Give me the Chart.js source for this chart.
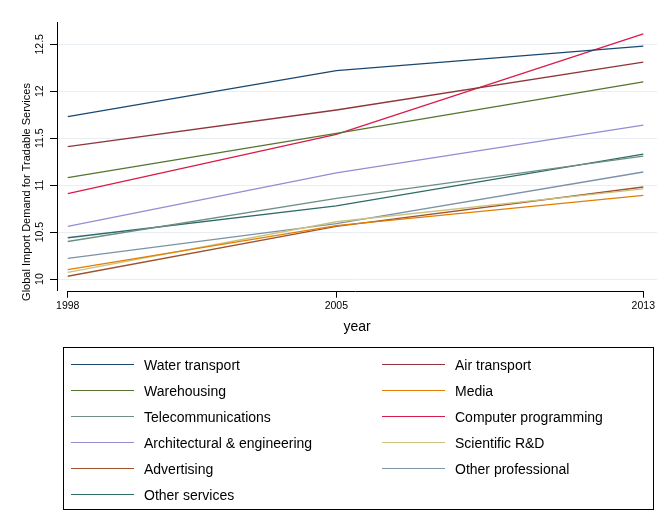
<!DOCTYPE html>
<html>
<head>
<meta charset="utf-8">
<script src="https://cdn.jsdelivr.net/npm/chart.js@4.4.1/dist/chart.umd.min.js"></script>
<style>
  html, body { margin: 0; padding: 0; background: #fff; }
  #wrap { position: relative; width: 669px; height: 525px; }
  #c { position: absolute; left: 0; top: 0; }
  #legend { position: absolute; left: 63px; top: 347px; width: 591px; height: 163px;
    border: 1px solid #000; box-sizing: border-box; font-family: 'Liberation Sans', Arial, sans-serif; font-size: 14px; color: #000; }
  .item { position: absolute; height: 20px; }
  .item .ln { position: absolute; left: 0; top: 9px; width: 63px; height: 0; border-top-width: 1px; border-top-style: solid; }
  .item .tx { position: absolute; left: 73px; top: 1px; white-space: nowrap; line-height: 18px; }
</style>
</head>
<body>
<div id="wrap">
  <canvas id="c" width="669" height="525"></canvas>
  <div id="legend"></div>
</div>
<script>
const years = [1998, 2005, 2013];
const seriesNames = ["Water transport", "Air transport", "Warehousing", "Media", "Telecommunications",
  "Computer programming", "Architectural & engineering", "Scientific R&D", "Advertising",
  "Other professional", "Other services"];
const waterTransport = [11.73, 12.22, 12.48];
const airTransport = [11.41, 11.80, 12.31];
const warehousing = [11.08, 11.55, 12.10];
const media = [10.10, 10.57, 10.89];
const telecommunications = [10.40, 10.86, 11.31];
const computerProgramming = [10.91, 11.54, 12.61];
const architectural = [10.56, 11.13, 11.64];
const scientificRD = [10.07, 10.61, 10.96];
const advertising = [10.03, 10.56, 10.98];
const otherProfessional = [10.22, 10.59, 11.14];
const otherServices = [10.44, 10.78, 11.33];
const yTicks = [10, 10.5, 11, 11.5, 12, 12.5];
const yTickLabels = ["10", "10.5", "11", "11.5", "12", "12.5"];
const xTicks = [1998, 2005, 2013];

const seriesValues = [waterTransport, airTransport, warehousing, media, telecommunications,
  computerProgramming, architectural, scientificRD, advertising, otherProfessional, otherServices];
const colors = ["#1a476f", "#90353b", "#55752f", "#e37e00", "#6e8e84", "#d81b4a",
  "#938dd2", "#cac27e", "#a0522d", "#7b92a8", "#2d6d66"];

const FONT = "'Liberation Sans', Arial, sans-serif";

const datasets = seriesNames.map((name, i) => ({
  label: name,
  data: years.map((yr, j) => ({ x: yr, y: seriesValues[i][j] })),
  borderColor: colors[i],
  backgroundColor: colors[i],
  borderWidth: 1.3,
  pointRadius: 0,
  tension: 0,
  fill: false
}));

const decor = {
  id: 'decor',
  afterDraw(chart) {
    const ctx = chart.ctx;
    const xs = chart.scales.x, ca = chart.chartArea;
    ctx.save();
    ctx.strokeStyle = '#000';
    ctx.lineWidth = 1;
    ctx.beginPath();
    const yb = Math.round(ca.bottom) + 0.5;
    ctx.moveTo(xs.getPixelForValue(xTicks[0]) - 0.5, yb);
    ctx.lineTo(xs.getPixelForValue(xTicks[xTicks.length - 1]) + 0.5, yb);
    ctx.stroke();
    ctx.translate(27, 192);
    ctx.rotate(-Math.PI / 2);
    ctx.fillStyle = '#000';
    ctx.font = "11px " + FONT;
    ctx.textAlign = 'center';
    ctx.textBaseline = 'middle';
    ctx.fillText('Global Import Demand for Tradable Services', 0, 0);
    ctx.restore();
  }
};

const chart = new Chart(document.getElementById('c'), {
  type: 'line',
  data: { datasets },
  options: {
    responsive: false,
    animation: false,
    layout: { padding: { left: 0, top: 22, right: 12, bottom: 184.3 } },
    plugins: { legend: { display: false }, tooltip: { enabled: false } },
    scales: {
      x: {
        type: 'linear',
        min: 1997.72, max: 2013.357,
        afterBuildTicks: s => { s.ticks = xTicks.map(v => ({ value: v })); },
        afterFit: s => { s.height = 50; },
        grid: { drawOnChartArea: false, drawTicks: true, tickLength: 7, tickColor: '#000', color: '#000' },
        border: { display: false },
        ticks: { padding: 2, color: '#000', font: { family: FONT, size: 10.5 }, maxRotation: 0, minRotation: 0,
          callback: v => String(v) },
        title: { display: true, text: 'year', color: '#000', font: { family: FONT, size: 14 }, padding: { top: 0, bottom: 5.6 } }
      },
      y: {
        type: 'linear',
        min: 9.876, max: 12.737,
        afterBuildTicks: s => { s.ticks = yTicks.map(v => ({ value: v })); },
        afterFit: s => { s.width = 57; },
        grid: { color: '#e9eef3', lineWidth: 1, drawTicks: true, tickLength: 7, tickColor: '#000' },
        border: { display: true, color: '#000', width: 1 },
        ticks: { padding: 0, color: '#000', font: { family: FONT, size: 10.5 }, minRotation: 90, maxRotation: 90,
          crossAlign: 'center',
          callback: (v) => { const k = yTicks.indexOf(v); return k >= 0 ? yTickLabels[k] : ''; } }
      }
    }
  },
  plugins: [decor]
});

// HTML legend built from the chart's datasets
const leg = document.getElementById('legend');
const colX = [7, 318];
chart.data.datasets.forEach((ds, i) => {
  const col = i % 2, row = Math.floor(i / 2);
  const it = document.createElement('div');
  it.className = 'item';
  it.style.left = colX[col] + 'px';
  it.style.top = (7 + row * 26) + 'px';
  const ln = document.createElement('div');
  ln.className = 'ln';
  ln.style.borderTopColor = ds.borderColor;
  const tx = document.createElement('div');
  tx.className = 'tx';
  tx.textContent = ds.label;
  it.appendChild(ln); it.appendChild(tx);
  leg.appendChild(it);
});
</script>
</body>
</html>
